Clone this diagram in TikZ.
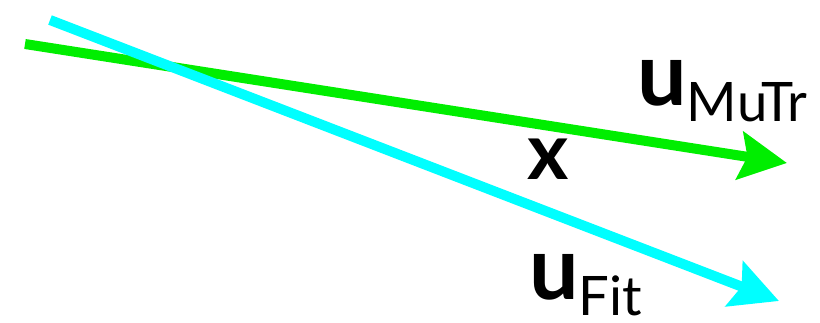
\documentclass[tikz,border=0pt]{standalone}
\usepackage{fontspec}
\setmainfont{Lato}
\usetikzlibrary{arrows.meta}
\definecolor{mutrgreen}{RGB}{0,238,0}
\definecolor{fitcyan}{RGB}{0,255,255}
\newcommand{\vecu}[1]{{\fontsize{50}{50}\selectfont\bfseries u}{\fontsize{31}{31}\selectfont\raisebox{-0.33cm}{#1}}}
\begin{document}
\begin{tikzpicture}[x=0.02cm, y=-0.02cm]
    \tikzset{vec/.style={line width=0.2cm, -{Stealth[length=0.95cm, width=0.95cm, inset=0.15cm]}}}
    \useasboundingbox (0,0) rectangle (820,322);

    \coordinate (M0) at (25,44);
    \coordinate (M1) at (787,163);
    \coordinate (F0) at (50,20);
    \coordinate (F1) at (779,301);

    % vectores
    \draw[vec, mutrgreen] (M0) -- (M1);
    \draw[vec, fitcyan] (F0) -- (F1);

    % etiquetas
    \node[anchor=base west, inner sep=0] (uMuTr) at (637,105) {\vecu{MuTr}};
    \node[anchor=base west, inner sep=0] (uFit) at (529,299) {\vecu{Fit}};
    \node[anchor=base west, inner sep=0] (x) at (527,179) {\fontsize{45}{45}\selectfont\bfseries x};
\end{tikzpicture}
\end{document}
